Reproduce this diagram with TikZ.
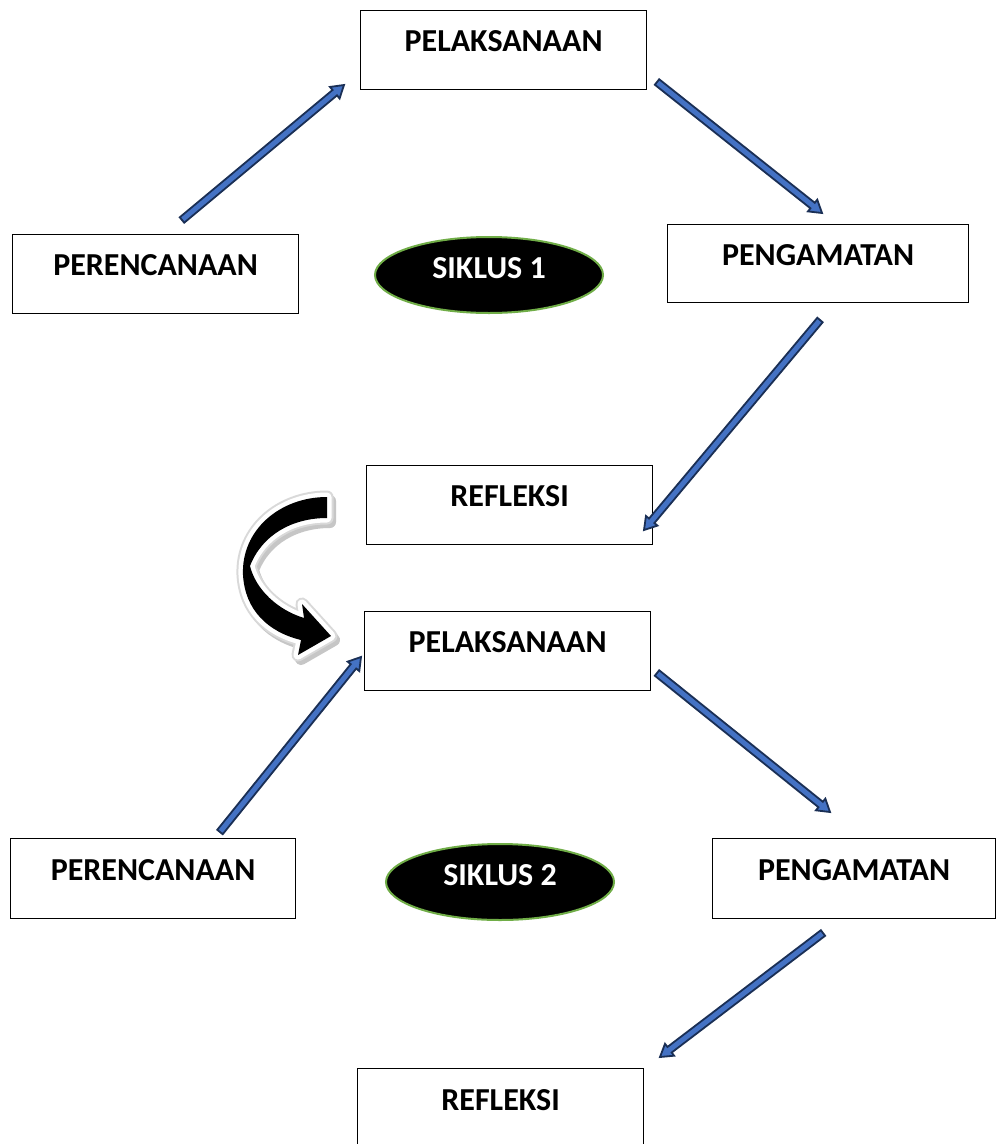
\documentclass[tikz,border=0pt]{standalone}
\usepackage{fontspec}
\setmainfont{Carlito}
\usetikzlibrary{shapes.geometric,calc}
\definecolor{arrowfill}{HTML}{4472C4}
\definecolor{arrowline}{HTML}{1A2F55}
\definecolor{ringgreen}{HTML}{70AD47}

\newcommand{\drawblockarrow}[2]{%
 \coordinate (ba-h) at ($(#2)!12pt!(#1)$);
 \filldraw[blockarrowstyle] ($(#1)!3.5pt!90:(#2)$) -- ($(ba-h)!3.5pt!90:(#2)$) -- ($(ba-h)!7.5pt!90:(#2)$) -- (#2) -- ($(ba-h)!7.5pt!-90:(#2)$) -- ($(ba-h)!3.5pt!-90:(#2)$) -- ($(#1)!3.5pt!-90:(#2)$) -- cycle;}

\newcommand{\curvedshape}[1]{\path[#1] (327,497) -- (327,518) .. controls (292,518) and (262,535) .. (250,566) .. controls (256,590) and (278,610) .. (304,618) -- (302,604) -- (331,636) -- (298,655) -- (301,640) .. controls (268,632) and (245,610) .. (243,575) .. controls (241,530) and (280,497) .. (327,497) -- cycle;}

\tikzset{
 box/.style={draw=black, line width=1.2pt, rectangle, anchor=north west, inner xsep=0pt, inner ysep=0pt, minimum height=79pt, text height=41pt, text depth=38pt, font=\fontsize{32}{38}\selectfont\bfseries},
 siklus/.style={ellipse, fill=black, draw=ringgreen, line width=2pt, minimum width=228pt, minimum height=76pt, inner sep=0pt, text=white, text height=20pt, text depth=14pt, font=\fontsize{32}{38}\selectfont\bfseries},
 blockarrowstyle/.style={fill=arrowfill, draw=arrowline, line width=1.8pt},
}

\begin{document}
\begin{tikzpicture}[x=1pt,y=-1pt]
\useasboundingbox (0,0) rectangle (996,1144);
\clip (0,0) rectangle (996,1144);
\fill[white] (0,0) rectangle (996,1144);

% cycle 1
\node[box, minimum width=286pt] (p1) at (360,10) {PELAKSANAAN};
\node[box, minimum width=286pt] (r1) at (12,234) {PERENCANAAN};
\node[box, minimum width=301pt, minimum height=78pt, text depth=37pt] (g1) at (667,224) {PENGAMATAN};
\node[box, minimum width=286pt] (f1) at (366,465) {REFLEKSI};
\node[siklus] (s1) at (489,275) {SIKLUS 1};

% cycle 2
\node[box, minimum width=286pt] (p2) at (364,611) {PELAKSANAAN};
\node[box, minimum width=285pt, text height=42pt, text depth=38pt, minimum height=80pt] (r2) at (10,838) {PERENCANAAN};
\node[box, minimum width=283pt, text height=42pt, text depth=38pt, minimum height=80pt] (g2) at (712,838) {PENGAMATAN};
\node[box, minimum width=286pt, text height=42pt, text depth=60pt, minimum height=102pt] (f2) at (357,1068) {REFLEKSI};
\node[siklus] (s2) at (500,882) {SIKLUS 2};

% arrow end points
\coordinate (a1s) at (182,220); \coordinate (a1e) at (344,85);
\coordinate (a2s) at (657,82);  \coordinate (a2e) at (822,213);
\coordinate (a3s) at (820,320); \coordinate (a3e) at (644,530);
\coordinate (a4s) at (220,832); \coordinate (a4e) at (361,657);
\coordinate (a5s) at (657,673); \coordinate (a5e) at (830,812);
\coordinate (a6s) at (823,933); \coordinate (a6e) at (660,1057);

\drawblockarrow{a1s}{a1e}
\drawblockarrow{a2s}{a2e}
\drawblockarrow{a3s}{a3e}
\drawblockarrow{a4s}{a4e}
\drawblockarrow{a5s}{a5e}
\drawblockarrow{a6s}{a6e}

% curved arrow between cycles
\curvedshape{fill=gray!45, draw=gray!45, line width=12pt, line join=round, shift={(3,4)}}
\curvedshape{draw=gray!30, line width=13pt, line join=round}
\curvedshape{fill=white, draw=white, line width=9pt, line join=round}
\curvedshape{fill=black}
\end{tikzpicture}
\end{document}
